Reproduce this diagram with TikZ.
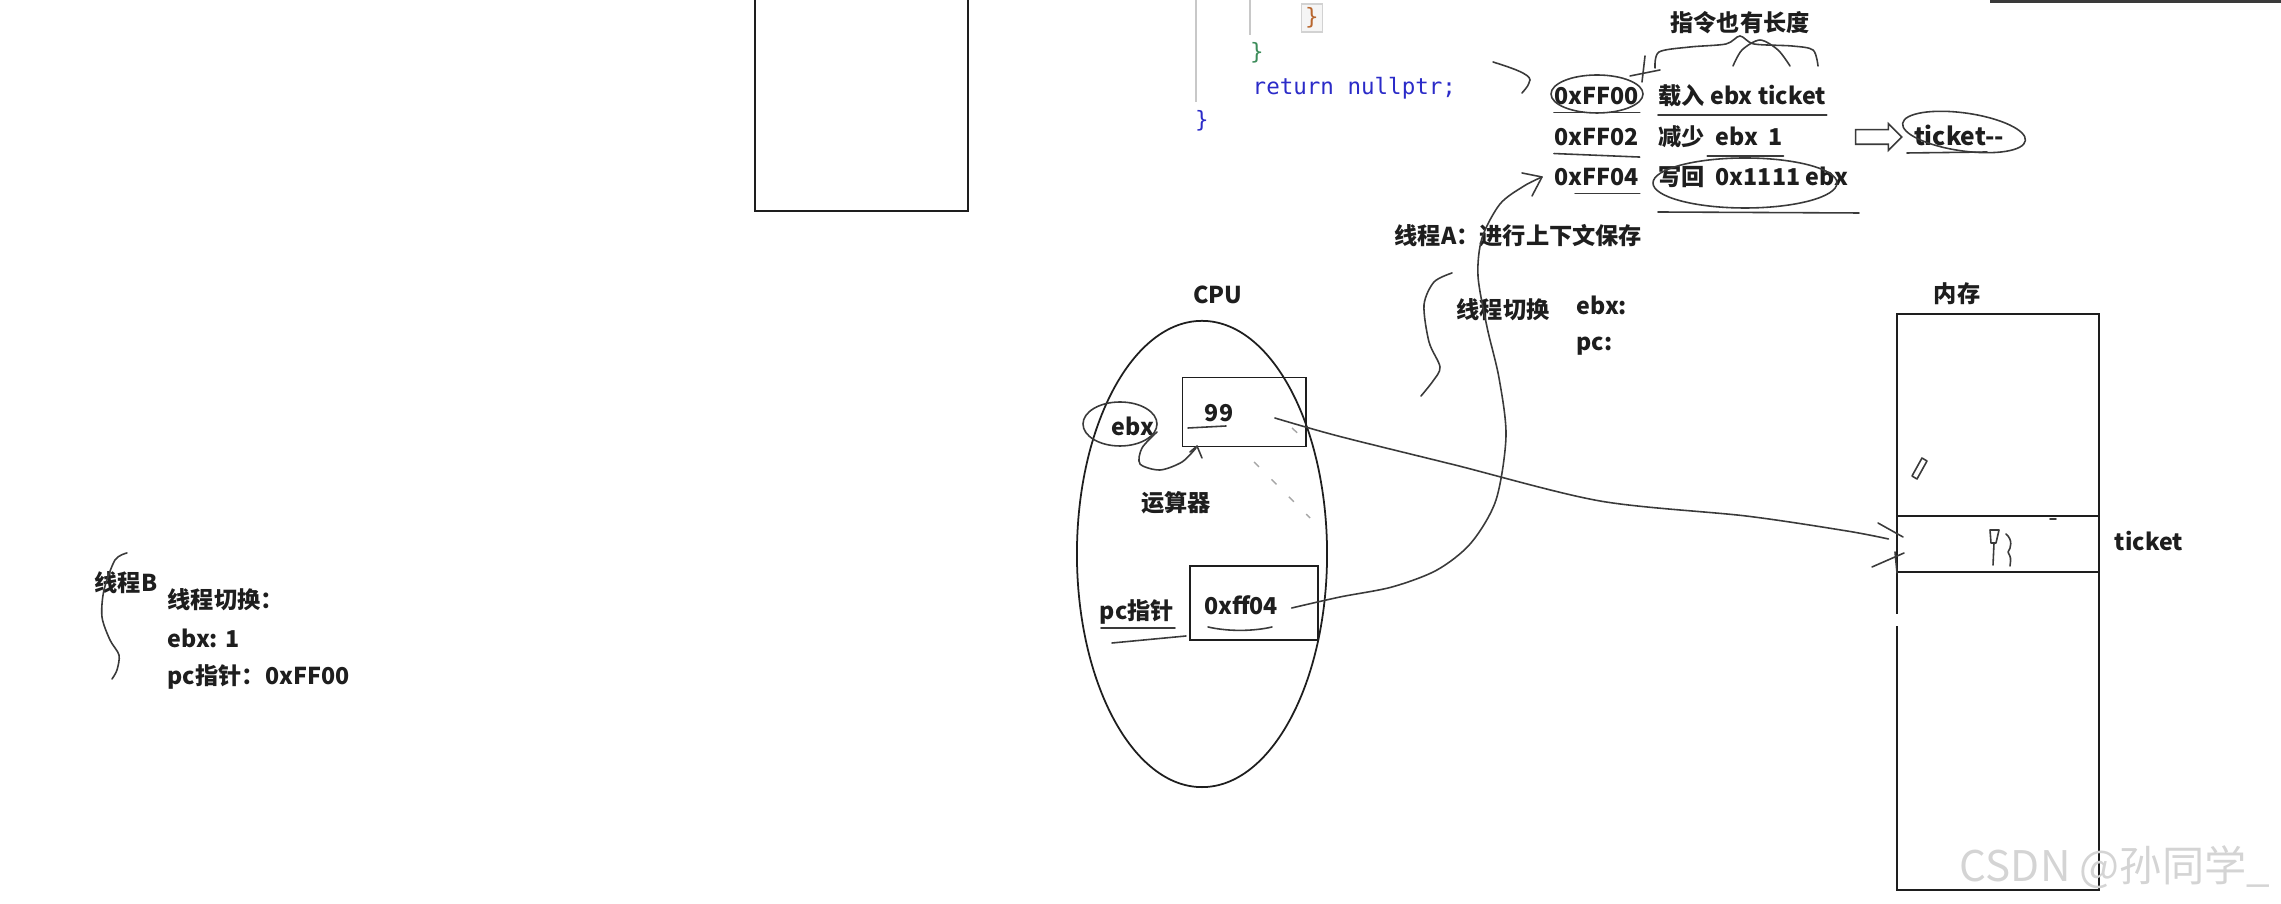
\documentclass[tikz,border=0pt]{standalone}
\usepackage{fontspec}
\setmainfont{Noto Sans CJK SC}
\newfontfamily\codefont{DejaVu Sans Mono}
\usepackage{tikz}
\usetikzlibrary{arrows.meta, positioning, shapes.geometric, shapes.arrows}
\definecolor{inkblack}{HTML}{1E1E1E}
\definecolor{pengray}{HTML}{3A3A3A}
\definecolor{codeblue}{HTML}{2B2BC8}
\definecolor{codegreen}{HTML}{3C8C5A}
\definecolor{codeorange}{HTML}{B8662E}
\definecolor{guidegray}{HTML}{C8C8C8}
\definecolor{markgray}{HTML}{D4D4D4}

\begin{document}
\begin{tikzpicture}[
        x=0.01cm, y=-0.01cm,
        every node/.style={align=center, inner sep=0pt},
        lbl/.style={font=\fontsize{6.6}{8}\selectfont\bfseries, text=inkblack},
        codetxt/.style={font=\codefont\fontsize{6.4}{8}\selectfont, text=codeblue},
        box/.style={rectangle, draw=inkblack, line width=0.55pt},
        pen/.style={draw=pengray, line width=0.45pt, line cap=round, line join=round},
        faint/.style={draw=pengray!45, line width=0.4pt, dash pattern=on 2pt off 5pt},
        hollow/.style={single arrow, draw=pengray, line width=0.45pt, minimum height=0.46cm,
                       inner sep=0.065cm, single arrow head extend=0.06cm}
    ]
        \useasboundingbox (0,0) rectangle (2281,904);

        % code window
        \node[box, minimum width=2.13cm, minimum height=2.5cm, anchor=south west] (win) at (754,212) {};
        \draw[guidegray, line width=0.5pt] (1196,-5) -- (1196,102);
        \draw[guidegray, line width=0.5pt] (1250,-5) -- (1250,35);
        \draw[pengray, line width=1pt] (1990,1) -- (2281,1);
        \node[codetxt, text=codeorange, fill=gray!8, draw=gray!35, inner sep=1pt] (br1) at (1312,18) {\}};
        \node[codetxt, text=codegreen] (br2) at (1257,53) {\}};
        \node[codetxt, anchor=west] (codeline) at (1252,88) {return nullptr;};
        \node[codetxt] (br3) at (1202,121) {\}};

        % instructions
        \node[lbl] (note) at (1740,23) {指令也有长度};
        \node[lbl, anchor=west] (addr1) at (1554,96) {0xFF00};
        \node[lbl, anchor=west] (ins1) at (1658,96) {载入 ebx ticket};
        \node[lbl, anchor=west] (addr2) at (1554,137) {0xFF02};
        \node[lbl, anchor=west] (ins2) at (1658,137) {减少\ \ ebx\ \ 1};
        \node[lbl, anchor=west] (addr3) at (1554,177) {0xFF04};
        \node[lbl, anchor=west] (ins3) at (1658,177) {写回\ \ 0x1111 ebx};
        \node[hollow] (conv) at (1875,137) {};
        \node[lbl, font=\fontsize{7}{8}\selectfont\bfseries] (dec) at (1959,135) {ticket-{}-};
        \node[lbl, anchor=west] (saveA) at (1394,236) {线程A：进行上下文保存};

        \draw[pen] plot[smooth] coordinates {(1655,68) (1659,52) (1690,47) (1726,44) (1740,36) (1754,44) (1792,46) (1813,50) (1818,66)};
        \draw[pen] plot[smooth] coordinates {(1733,66) (1742,50) (1760,40) (1778,50) (1790,66)};
        \draw[pen] (1645,56) -- (1642,82) (1630,76) -- (1660,70);
        \draw[pen] (1597,94) ellipse (46 and 19);
        \draw[pen] (1745,183) ellipse (92 and 25);
        \draw[pen, rotate around={-8:(1964,132)}] (1964,132) ellipse (62 and 19);
        \draw[pen] ([yshift=-2pt]addr1.south west) -- ([yshift=-2pt]addr1.south east);
        \draw[pen] ([yshift=-2pt]ins1.south west) -- ([yshift=-2pt]ins1.south east);
        \draw[pen] ([yshift=-2pt]addr2.south west) -- ([yshift=-3pt]addr2.south east);
        \draw[pen] ([xshift=14pt,yshift=-2pt]ins2.south west) -- ([yshift=-2pt]ins2.south east);
        \draw[pen] ([xshift=6pt,yshift=-2pt]addr3.south west) -- ([yshift=-2pt]addr3.south east);
        \draw[pen] (1658,212) -- (1859,213);
        \draw[pen] (1907,153) -- (1987,152);

        \coordinate (codetip) at (1493,62);
        \draw[pen] (codetip) .. controls (1512,68) and (1530,74) .. (1530,80) .. controls (1528,86) .. (1522,93);

        % CPU
        \node[lbl] (cpulbl) at (1218,295) {CPU};
        \node[draw=inkblack, line width=0.5pt, ellipse, minimum width=2.5cm, minimum height=4.66cm] (cpu) at (1202,554) {};
        \node[box, minimum width=1.23cm, minimum height=0.69cm] (reg) at (1244,412) {};
        \node[lbl] (val99) at (1219,413) {99};
        \node[lbl] (ebx) at (1133,426) {ebx};
        \node[lbl] (alu) at (1176,503) {运算器};
        \node[box, minimum width=1.28cm, minimum height=0.74cm] (pcbox) at (1254,603) {};
        \node[lbl] (pcval) at (1241,605) {0xff04};
        \node[lbl] (pclbl) at (1137,612) {pc指针};

        \draw[pen] (1120,424) ellipse (37 and 22);
        \draw[pen] plot[smooth] coordinates {(1157,432) (1142,448) (1140,464) (1160,470) (1182,462) (1196,448)};
        \draw[pen] (1190,452) -- (1197,446) -- (1202,458);
        \draw[pen] (1188,428) -- (1226,426);
        \draw[pen] (1101,628) -- (1175,628) (1112,643) -- (1186,636);
        \draw[pen] (1208,627) .. controls (1230,632) and (1255,631) .. (1272,627);
        \draw[faint] (1254,462) -- (1310,518);
        \draw[faint] (1292,428) -- (1305,440);

        % thread switch on A
        \node[lbl] (sw) at (1503,310) {线程切换};
        \node[lbl, anchor=west] (swebx) at (1576,305) {ebx:};
        \node[lbl, anchor=west] (swpc) at (1576,346) {pc:};
        \draw[pen] plot[smooth] coordinates {(1452,273) (1434,282) (1424,305) (1429,342) (1440,367) (1433,381) (1421,396)};
        \coordinate (pcout) at ([xshift=0.13cm,yshift=-0.03cm]pcval.east);
        \coordinate (pcin) at ([xshift=-0.12cm]addr3.west);
        \draw[pen] plot[smooth] coordinates {(pcout) (1340,597) (1392,587) (1437,570) (1471,543) (1496,500) (1506,436) (1499,378) (1487,327) (1478,276) (1482,238) (1500,204) (1524,186) (pcin)};
        \draw[pen] (1522,173) -- (pcin) -- (1532,196);

        % memory
        \node[lbl] (memlbl) at (1957,294) {内存};
        \node[box, minimum width=2.01cm, minimum height=5.76cm] (mem) at (1998,602) {};
        \node[box, minimum width=2.01cm, minimum height=0.56cm] (slot) at (1998,544) {};
        \node[lbl] (ticket) at (2149,541) {ticket};
        \draw[white, line width=2pt] (1898,614) -- (1898,626);
        \coordinate (lineA) at ([xshift=0.41cm,yshift=-0.05cm]val99.east);
        \coordinate (lineB) at ([xshift=-0.08cm,yshift=0.05cm]slot.west);
        \draw[pen] plot[smooth] coordinates {(lineA) (1338,436) (1455,465) (1600,501) (1746,516) (1847,531) (lineB)};
        \draw[pen] (1878,523) -- (1903,537) (1872,567) -- (1904,553) (1895,552) -- (1897,573);
        \draw[pen] (1912,476) -- (1922,458) -- (1927,461) -- (1917,479) -- cycle;
        \draw[pen] (1990,530) -- (1999,530) -- (1996,543) -- (1991,543) -- cycle (1994,543) -- (1993,565);
        \draw[pen] (2006,534) .. controls (2013,540) and (2011,548) .. (2008,552) .. controls (2011,558) .. (2010,566);
        \draw[pen] (2050,519) -- (2056,519);

        % thread B
        \node[lbl] (thB) at (126,583) {线程B};
        \node[lbl, anchor=west] (swB) at (167,600) {线程切换：};
        \node[lbl, anchor=west] (ebxB) at (167,638) {ebx: 1};
        \node[lbl, anchor=west] (pcB) at (167,677) {pc指针：0xFF00};
        \draw[pen] plot[smooth] coordinates {(127,553) (115,560) (104,590) (102,617) (110,640) (119,655) (117,670) (112,679)};

        \node[font=\fontsize{12}{14}\selectfont, text=markgray] (wm) at (2115,867) {CSDN @孙同学\_};
    \end{tikzpicture}
\end{document}
